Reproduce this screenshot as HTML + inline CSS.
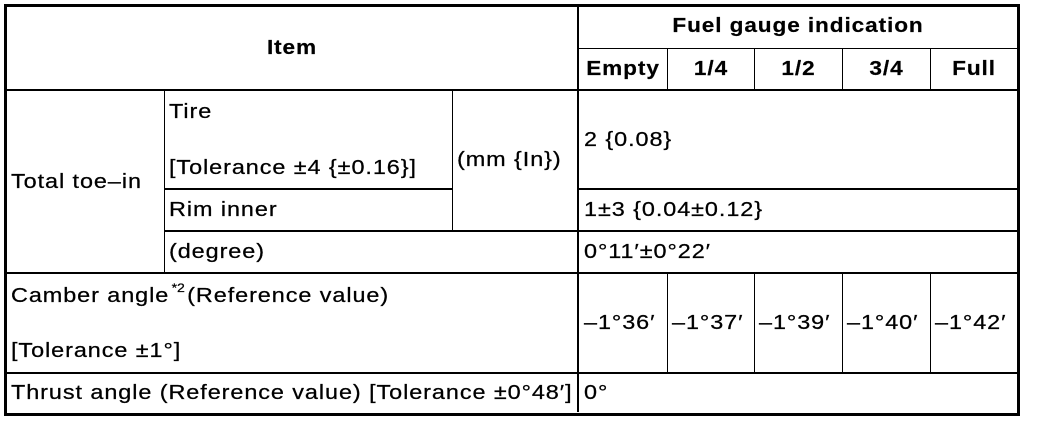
<!DOCTYPE html>
<html>
<head>
<meta charset="utf-8">
<style>
  html, body { margin:0; padding:0; background:#fff; }
  body { width:1056px; height:422px; position:relative; overflow:hidden;
         font-family:"Liberation Sans", Arial, sans-serif; color:#000; }
  .b { position:absolute; background:#000; }
  .t { position:absolute; white-space:nowrap; font-size:20px; line-height:24px;
       letter-spacing:0.8px; transform:scaleX(1.17); transform-origin:0 50%;
       -webkit-text-stroke:0.25px #000; }
  .c { text-align:center; transform-origin:50% 50%; }
  .bold { font-weight:bold; letter-spacing:0.8px; transform:scaleX(1.13); -webkit-text-stroke:0.2px #000; }
  sup { font-size:12px; line-height:0; position:relative; top:-2px; vertical-align:super; letter-spacing:0; margin:0 2px 0 2px; }
</style>
</head>
<body>
  <!-- outer border -->
  <div style="position:absolute;left:4px;top:4px;width:1010px;height:406px;border:3px solid #000;"></div>

  <!-- horizontal lines -->
  <div class="b" style="left:578px;top:48px;width:439px;height:1px;"></div>
  <div class="b" style="left:7px;top:89px;width:1010px;height:2px;"></div>
  <div class="b" style="left:164px;top:188px;width:288px;height:2px;"></div>
  <div class="b" style="left:578px;top:188px;width:439px;height:2px;"></div>
  <div class="b" style="left:164px;top:230px;width:853px;height:2px;"></div>
  <div class="b" style="left:7px;top:272px;width:1010px;height:2px;"></div>
  <div class="b" style="left:7px;top:372px;width:1010px;height:2px;"></div>

  <!-- vertical lines -->
  <div class="b" style="left:577px;top:7px;width:2px;height:405px;"></div>
  <div class="b" style="left:164px;top:90px;width:1px;height:183px;"></div>
  <div class="b" style="left:452px;top:90px;width:1px;height:141px;"></div>

  <div class="b" style="left:667px;top:48px;width:1px;height:42px;"></div>
  <div class="b" style="left:754px;top:48px;width:1px;height:42px;"></div>
  <div class="b" style="left:842px;top:48px;width:1px;height:42px;"></div>
  <div class="b" style="left:930px;top:48px;width:1px;height:42px;"></div>

  <div class="b" style="left:667px;top:273px;width:1px;height:100px;"></div>
  <div class="b" style="left:754px;top:273px;width:1px;height:100px;"></div>
  <div class="b" style="left:842px;top:273px;width:1px;height:100px;"></div>
  <div class="b" style="left:930px;top:273px;width:1px;height:100px;"></div>

  <!-- header text -->
  <div class="t c bold" style="left:7px;width:570px;top:36px;">Item</div>
  <div class="t c bold" style="left:579px;width:438px;top:14px;">Fuel gauge indication</div>
  <div class="t c bold" style="left:579px;width:88px;top:57px;">Empty</div>
  <div class="t c bold" style="left:668px;width:86px;top:57px;">1/4</div>
  <div class="t c bold" style="left:755px;width:87px;top:57px;">1/2</div>
  <div class="t c bold" style="left:843px;width:87px;top:57px;">3/4</div>
  <div class="t c bold" style="left:931px;width:86px;top:57px;">Full</div>

  <!-- body text -->
  <div class="t" style="left:11px;top:170px;">Total toe–in</div>
  <div class="t" style="left:169px;top:100px;">Tire</div>
  <div class="t" style="left:169px;top:156px;">[Tolerance ±4 {±0.16}]</div>
  <div class="t" style="left:457px;top:148px;">(mm {In})</div>
  <div class="t" style="left:584px;top:128px;">2 {0.08}</div>

  <div class="t" style="left:169px;top:198px;">Rim inner</div>
  <div class="t" style="left:584px;top:198px;">1±3 {0.04±0.12}</div>

  <div class="t" style="left:169px;top:240px;">(degree)</div>
  <div class="t" style="left:584px;top:240px;">0°11′±0°22′</div>

  <div class="t" style="left:11px;top:284px;">Camber angle<sup>*2</sup>(Reference value)</div>
  <div class="t" style="left:11px;top:339px;">[Tolerance ±1°]</div>

  <div class="t" style="left:584px;top:311px;">–1°36′</div>
  <div class="t" style="left:672px;top:311px;">–1°37′</div>
  <div class="t" style="left:759px;top:311px;">–1°39′</div>
  <div class="t" style="left:847px;top:311px;">–1°40′</div>
  <div class="t" style="left:935px;top:311px;">–1°42′</div>

  <div class="t" style="left:11px;top:381px;">Thrust angle (Reference value) [Tolerance ±0°48′]</div>
  <div class="t" style="left:584px;top:381px;">0°</div>
</body>
</html>
